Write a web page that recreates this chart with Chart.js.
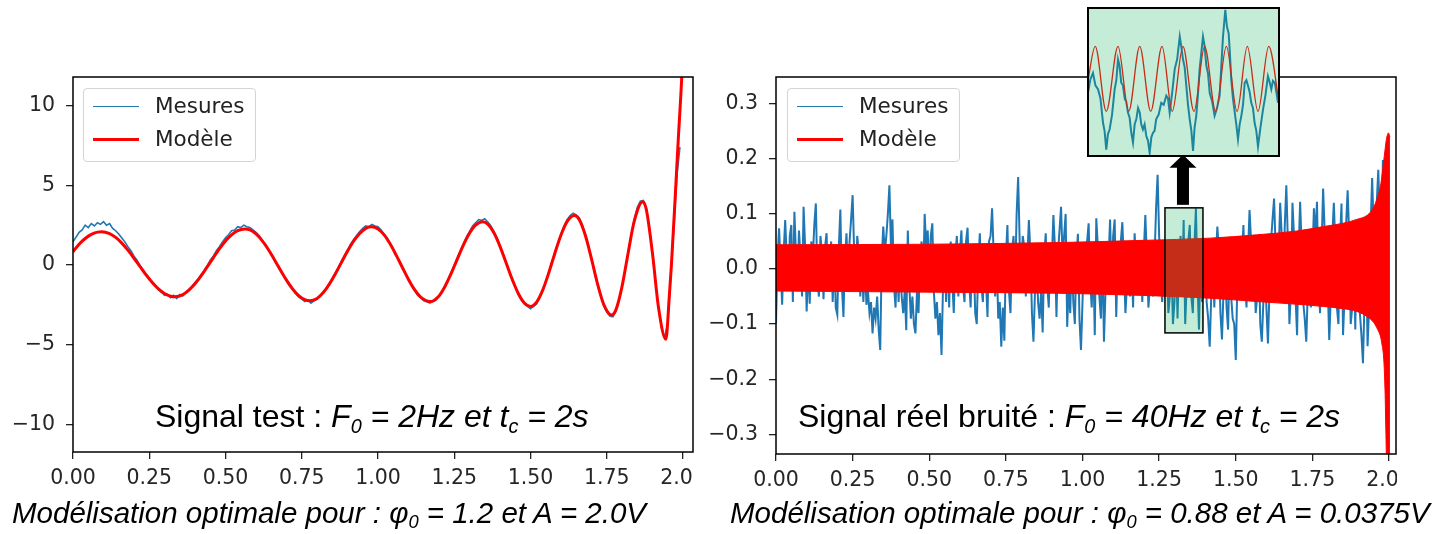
<!DOCTYPE html>
<html>
<head>
<meta charset="utf-8">
<script src="https://cdn.jsdelivr.net/npm/chart.js@4"></script>
<style>
  body { margin: 0; width: 1446px; height: 534px; background: #fff; position: relative; overflow: hidden; }
  .wrap { position: absolute; top: 0; height: 534px; overflow: hidden; }
  canvas { display: block; }
  #inset { position: absolute; left: 1087px; top: 7px; }
  .legend { position: absolute; top: 88px; width: 171px; height: 72px; border: 1px solid #d4d4d4; border-radius: 4px;
            background: rgba(255,255,255,0.85); font-family: "DejaVu Sans", sans-serif; font-size: 21.5px; color: #222; }
  .legend .line { position: absolute; left: 9px; width: 46px; }
  .legend .txt { position: absolute; left: 71px; line-height: 26px; }
  .note, .cap { position: absolute; font-family: "Liberation Sans", Arial, sans-serif; white-space: nowrap; color: #000; }
  .note { font-size: 32px; line-height: 32px; top: 400px; }
  .cap { font-size: 29.5px; line-height: 29.5px; top: 498px; font-style: italic; }
  sub { font-size: 62%; vertical-align: baseline; position: relative; top: 0.3em; line-height: 0; }
</style>
</head>
<body>
<div class="wrap" style="left:0;width:694px"><canvas id="left" width="720" height="534"></canvas></div>
<div class="wrap" style="left:700px;width:697px"><canvas id="right" width="746" height="534"></canvas></div>
<canvas id="inset" width="193" height="150"></canvas>

<div class="legend" style="left:83px">
  <div class="line" style="top:16.5px;height:1.5px;background:#1f77b4"></div>
  <div class="txt" style="top:4px">Mesures</div>
  <div class="line" style="top:48.5px;height:3px;background:#ff0000"></div>
  <div class="txt" style="top:37px">Modèle</div>
</div>
<div class="legend" style="left:787px">
  <div class="line" style="top:16.5px;height:1.5px;background:#1f77b4"></div>
  <div class="txt" style="top:4px">Mesures</div>
  <div class="line" style="top:48.5px;height:3px;background:#ff0000"></div>
  <div class="txt" style="top:37px">Modèle</div>
</div>

<div class="note" style="left:155px">Signal test : <i>F<sub>0</sub> = 2Hz et t<sub>c</sub> = 2s</i></div>
<div class="note" style="left:798px">Signal réel bruité : <i>F<sub>0</sub> = 40Hz et t<sub>c</sub> = 2s</i></div>
<div class="cap" style="left:12px">Modélisation optimale pour : φ<sub>0</sub> = 1.2 et A = 2.0V</div>
<div class="cap" style="left:730px">Modélisation optimale pour : φ<sub>0</sub> = 0.88 et A = 0.0375V</div>

<script>
// ---- data ----
const xTicks = [0, 0.25, 0.5, 0.75, 1, 1.25, 1.5, 1.75, 2];
const testYTicks = [-10, -5, 0, 5, 10];
const realYTicks = [-0.3, -0.2, -0.1, 0, 0.1, 0.2, 0.3];

// signal test (F0 = 2 Hz): model curve, extrema + intermediate points
const testModelT = [0, 0.02, 0.04, 0.06, 0.08, 0.094, 0.12, 0.14, 0.16, 0.18, 0.2, 0.22, 0.24, 0.26, 0.28, 0.3, 0.32, 0.334,
  0.36, 0.38, 0.4, 0.42, 0.44, 0.46, 0.48, 0.5, 0.52, 0.54, 0.564, 0.58, 0.6, 0.62, 0.64, 0.66, 0.68, 0.7, 0.72, 0.74, 0.76, 0.777,
  0.8, 0.82, 0.84, 0.86, 0.88, 0.9, 0.92, 0.94, 0.96, 0.979, 1.0, 1.02, 1.04, 1.06, 1.08, 1.1, 1.12, 1.14, 1.17,
  1.2, 1.22, 1.24, 1.26, 1.28, 1.3, 1.32, 1.343, 1.36, 1.38, 1.4, 1.42, 1.44, 1.46, 1.48, 1.5,
  1.52, 1.54, 1.56, 1.58, 1.6, 1.62, 1.644, 1.66, 1.68, 1.7, 1.72, 1.74, 1.766, 1.78, 1.8, 1.82, 1.84, 1.868,
  1.88, 1.9, 1.92, 1.944, 1.955, 1.962, 1.974, 1.985, 1.996, 2.003];
const testModelV = [0.83, 1.30, 1.66, 1.92, 2.06, 2.09, 1.97, 1.73, 1.37, 0.93, 0.42, -0.11, -0.63, -1.10, -1.50, -1.79, -1.96, -1.99,
  -1.86, -1.58, -1.18, -0.69, -0.12, 0.45, 1.01, 1.50, 1.89, 2.15, 2.26, 2.20, 1.95, 1.53, 0.99, 0.35, -0.31, -0.95, -1.50, -1.92, -2.18, -2.25,
  -2.10, -1.75, -1.22, -0.57, 0.15, 0.86, 1.49, 1.98, 2.30, 2.40, 2.26, 1.89, 1.31, 0.60, -0.16, -0.91, -1.55, -2.02, -2.30,
  -1.94, -1.33, -0.53, 0.37, 1.25, 1.99, 2.50, 2.72, 2.57, 2.02, 1.17, 0.14, -0.90, -1.79, -2.39, -2.60,
  -2.33, -1.58, -0.49, 0.74, 1.88, 2.72, 3.10, 2.84, 1.85, 0.38, -1.20, -2.47, -3.14, -2.82, -1.36, 0.74, 2.73, 3.97,
  3.45, 0.71, -2.71, -4.67, -2.0, 0, 4.1, 8.05, 11.8, 15];

// signal test: measurements, one value every 0.01 s
const testMeasStep = 0.01;
const testMeasV = [
  1.45, 1.75, 2.05, 2.2, 2.5, 2.35, 2.6, 2.45, 2.65, 2.55,
  2.72, 2.5, 2.6, 2.3, 2.15, 1.95, 1.7, 1.45, 1.15, 0.9,
  0.55, 0.3, -0.05, -0.3, -0.6, -0.85, -1.15, -1.3, -1.55, -1.7,
  -1.9, -1.85, -2.05, -1.9, -2.1, -1.85, -1.95, -1.7, -1.55, -1.35,
  -1.1, -0.9, -0.6, -0.35, -0.05, 0.3, 0.55, 0.9, 1.15, 1.45,
  1.7, 1.9, 2.15, 2.2, 2.4, 2.35, 2.5, 2.4, 2.35, 2.2,
  2.05, 1.85, 1.55, 1.3, 0.95, 0.7, 0.3, 0.0, -0.35, -0.65,
  -1.0, -1.3, -1.55, -1.8, -2.0, -2.15, -2.3, -2.2, -2.4, -2.25,
  -2.15, -1.95, -1.7, -1.5, -1.15, -0.85, -0.5, -0.15, 0.25, 0.6,
  0.95, 1.3, 1.6, 1.85, 2.1, 2.3, 2.45, 2.4, 2.55, 2.45,
  2.4, 2.2, 1.95, 1.7, 1.35, 1.0, 0.6, 0.25, -0.2, -0.55,
  -0.95, -1.3, -1.6, -1.9, -2.05, -2.25, -2.3, -2.4, -2.3, -2.2,
  -1.95, -1.7, -1.3, -0.9, -0.45, 0.0, 0.45, 0.9, 1.35, 1.75,
  2.1, 2.45, 2.65, 2.85, 2.8, 2.9, 2.7, 2.45, 2.1, 1.7,
  1.2, 0.7, 0.15, -0.4, -0.95, -1.4, -1.85, -2.2, -2.45, -2.6,
  -2.75, -2.6, -2.45, -2.05, -1.6, -1.05, -0.45, 0.2, 0.8, 1.4,
  1.95, 2.45, 2.85, 3.1, 3.25, 3.15, 2.95, 2.5, 1.9, 1.2,
  0.4, -0.45, -1.25, -1.95, -2.55, -2.95, -3.2, -3.25, -2.9, -2.25,
  -1.4, -0.35, 0.8, 1.85, 2.85, 3.6, 4.0, 4.05, 3.55, 2.3,
  0.75, -1.05, -2.75, -4.0, -4.55, -3.6, -0.7, 2.3, 5.6, 7.4];

// real noisy signal (F0 = 40 Hz): measurements, one value every 0.005 s
const realMeasStep = 0.005;
const realMeasV = [
  -0.099, 0.02, 0.074, 0.01, -0.065, 0.03, 0.089, 0.02, -0.04, 0.06, 0.08, -0.06, 0.104, 0.03, -0.03, 0.07, 0.02, -0.05, 0.113, 0.04,
  -0.077, 0.01, -0.063, 0.05, 0.02, 0.08, 0.119, -0.02, -0.05, 0.06, 0.03, -0.055, 0.04, 0.065, -0.04, 0.02, 0.05, -0.06, 0.03, -0.07,
  -0.083, 0.04, 0.108, -0.03, -0.087, 0.02, 0.065, -0.02, 0.05, 0.09, 0.134, 0.03, -0.04, 0.06, 0.03, -0.05, 0.02, -0.06, 0.01, -0.065,
  -0.04, -0.08, -0.06, -0.117, -0.07, -0.09, -0.05, -0.11, -0.147, 0.02, 0.077, 0.03, 0.06, 0.1, 0.152, 0.04, 0.09, -0.03, -0.07, 0.02,
  -0.06, 0.03, -0.05, -0.08, -0.04, -0.111, 0.07, -0.03, -0.09, -0.05, -0.1, -0.117, -0.04, -0.08, 0.02, 0.05, -0.03, 0.1, 0.04, 0.07,
  -0.02, 0.06, 0.083, -0.04, -0.09, -0.06, -0.12, -0.08, -0.156, -0.03, 0.04, -0.06, 0.03, -0.07, 0.05, -0.02, -0.08, 0.02, 0.06, -0.05,
  0.03, 0.07, -0.03, -0.06, 0.05, 0.075, -0.02, -0.07, 0.04, 0.02, -0.08, -0.1, 0.01, 0.065, -0.03, -0.06, 0.04, -0.02, -0.087, 0.05,
  0.06, 0.11, 0.03, -0.05, 0.02, -0.09, -0.06, -0.141, -0.07, -0.13, 0.02, 0.08, -0.04, -0.08, 0.03, 0.06, -0.03, 0.1, 0.167, 0.05,
  -0.02, 0.06, 0.04, -0.05, 0.02, 0.089, 0.03, -0.08, -0.132, -0.04, 0.03, -0.06, -0.09, -0.04, -0.115, 0.02, 0.065, -0.03, -0.07, 0.04,
  0.02, 0.098, 0.04, -0.087, 0.03, 0.07, 0.113, 0.02, 0.06, 0.1, -0.105, -0.03, -0.08, 0.03, -0.06, -0.1, 0.02, 0.064, -0.09, -0.147,
  -0.06, 0.03, -0.04, 0.05, 0.083, -0.02, -0.07, 0.02, -0.12, 0.092, 0.04, -0.05, -0.09, 0.03, -0.132, -0.04, 0.05, 0.02, 0.09, -0.03,
  0.06, 0.09, -0.087, 0.02, -0.04, 0.05, 0.085, 0.01, -0.08, -0.03, 0.04, -0.05, 0.02, -0.07, 0.065, 0.01, -0.04, 0.03, 0.05, -0.06,
  0.03, 0.098, 0.02, -0.07, -0.03, 0.04, -0.05, 0.02, 0.11, 0.171, 0.06, -0.02, -0.06, 0.02, -0.04, 0.03, -0.08, -0.05, 0.02, -0.1,
  -0.06, 0.03, -0.09, 0.02, 0.06, -0.04, 0.089, -0.1, -0.03, 0.05, 0.08, -0.05, -0.08, 0.04, 0.11, -0.02, -0.11, 0.03, -0.06, 0.02,
  0.04, -0.06, -0.09, -0.141, -0.05, 0.03, -0.07, 0.02, 0.077, 0.03, -0.08, -0.128, -0.04, 0.02, -0.07, -0.11, 0.03, -0.05, -0.09, -0.1,
  -0.165, -0.03, 0.04, -0.05, 0.02, 0.08, -0.02, -0.07, 0.03, 0.107, 0.05, -0.04, 0.02, -0.08, -0.05, 0.03, -0.1, -0.132, -0.06, 0.02,
  -0.07, -0.135, -0.04, 0.05, 0.09, 0.128, 0.04, -0.06, 0.03, 0.12, 0.06, -0.03, 0.08, 0.152, 0.05, -0.1, -0.04, 0.12, 0.06, -0.05,
  -0.12, 0.03, 0.122, 0.04, -0.06, -0.09, -0.132, -0.04, 0.05, -0.07, 0.02, 0.11, 0.06, 0.122, -0.03, -0.08, 0.04, 0.146, 0.07, -0.06,
  -0.03, -0.129, -0.05, 0.06, 0.12, 0.04, -0.07, -0.1, 0.05, 0.119, -0.12, -0.05, 0.08, 0.143, 0.06, -0.1, -0.07, 0.04, -0.11, 0.09,
  0.03, -0.08, -0.12, -0.171, -0.06, 0.05, -0.14, -0.07, 0.08, 0.165, 0.07, -0.09, 0.12, 0.18, 0.09, -0.05, 0.198, 0.1, -0.08, 0.05];

// real signal: model oscillates too fast to resolve, so its upper / lower envelope
const realEnvT = [0, 0.5, 0.92, 1.2, 1.416, 1.568, 1.7, 1.786, 1.85, 1.895, 1.93, 1.95, 1.963, 1.972, 1.978, 1.983, 1.987, 1.99, 1.994, 1.998, 2.003];
const realEnvUp = [0.044, 0.045, 0.048, 0.052, 0.056, 0.062, 0.069, 0.077, 0.083, 0.09, 0.098, 0.112, 0.131, 0.15, 0.174, 0.198, 0.216, 0.23, 0.242, 0.247, 0.24];
const realEnvLow = [-0.040, -0.042, -0.044, -0.048, -0.053, -0.059, -0.064, -0.068, -0.072, -0.077, -0.087, -0.097, -0.11, -0.122, -0.14, -0.165, -0.22, -0.3, -0.4, -0.4, -0.4];

// zoomed region (time range, value range)
const zoomT = [1.269, 1.393];
const zoomV = [-0.116, 0.111];

// inset: zoom of that region
const insetModelT = [1.2687, 1.2741, 1.2813, 1.289, 1.296, 1.3032, 1.3104, 1.3178, 1.3245, 1.3315, 1.3387, 1.3457, 1.3529, 1.3599, 1.3669, 1.3736, 1.3806, 1.3876, 1.395];
const insetModelV = [-0.012, 0.05, -0.05, 0.05, -0.05, 0.05, -0.05, 0.05, -0.05, 0.05, -0.05, 0.05, -0.05, 0.05, -0.05, 0.05, -0.05, 0.05, -0.047];
const insetMeasT = [1.2693, 1.2709, 1.2726, 1.2742, 1.2759, 1.2775, 1.2792, 1.2802, 1.2813, 1.2824, 1.2835, 1.2851, 1.2868, 1.2879,
  1.289, 1.29, 1.2911, 1.2922, 1.2934, 1.2944, 1.2955, 1.2966, 1.2977, 1.2988, 1.2999, 1.301, 1.3021, 1.3032, 1.3042, 1.3053, 1.3064,
  1.3075, 1.3086, 1.3097, 1.3108, 1.3119, 1.3129, 1.314, 1.3156, 1.3173, 1.3189, 1.3206, 1.3217, 1.3228, 1.3244, 1.3261, 1.3277,
  1.3294, 1.3304, 1.3315, 1.3326, 1.3337, 1.3348, 1.3359, 1.337, 1.3381, 1.3391, 1.3402, 1.3413, 1.3424, 1.3435, 1.3446, 1.3457,
  1.3468, 1.3479, 1.349, 1.3506, 1.3522, 1.3538, 1.3555, 1.3566, 1.3577, 1.3592, 1.3603, 1.3614, 1.3622, 1.3631, 1.3642, 1.3654,
  1.3664, 1.3675, 1.3686, 1.3697, 1.3708, 1.3719, 1.373, 1.3741, 1.3751, 1.3762, 1.3773, 1.3784, 1.3795, 1.3806, 1.3822, 1.3839,
  1.3855, 1.3871, 1.3882, 1.3893, 1.3904, 1.3916, 1.3926, 1.3937];
const insetMeasV = [-0.022, -0.001, 0.009, -0.010, -0.016, -0.030, -0.068, -0.080, -0.109, -0.085, -0.078, -0.055, -0.016, -0.002,
  0.03, 0.02, -0.006, -0.010, -0.031, -0.035, -0.052, -0.060, -0.083, -0.098, -0.070, -0.062, -0.045, -0.052, -0.070, -0.078, -0.070,
  -0.088, -0.095, -0.114, -0.090, -0.083, -0.080, -0.062, -0.055, -0.037, -0.040, -0.026, -0.030, -0.052, -0.022, 0.015, 0.030,
  0.065, 0.050, 0.03, 0.018, -0.011, -0.040, -0.062, -0.080, -0.111, -0.075, -0.057, -0.025, 0.015, 0.040, 0.065, 0.050,
  0.02, 0.008, -0.022, -0.035, -0.057, -0.045, -0.026, 0.020, 0.065, 0.106, 0.080, 0.07, 0.040, -0.001, -0.030, -0.052,
  -0.070, -0.093, -0.070, -0.057, -0.040, -0.006, -0.002, -0.011, -0.020, -0.037, -0.045, -0.068, -0.080, -0.104, -0.075, -0.047,
  -0.025, 0.004, -0.005, -0.016, -0.003, -0.006, -0.020, -0.037];

// ---- helpers ----
const pts = (xs, ys) => xs.map((x, i) => ({ x: x, y: ys[i] }));
const stepPts = (step, ys) => ys.map((y, i) => ({ x: +(i * step).toFixed(4), y: y }));
const minus = s => s.replace('-', '\u2212');
const tickFont = { family: 'DejaVu Sans', size: 20.5 };
const BLUE = '#1f77b4', RED = '#ff0000';

const frame = {
  id: 'frame',
  afterDatasetsDraw(chart) {
    const { ctx, chartArea: a } = chart;
    ctx.save();
    ctx.strokeStyle = '#000';
    ctx.lineWidth = 1.5;
    ctx.strokeRect(a.left, a.top, a.right - a.left, a.bottom - a.top);
    ctx.restore();
  }
};

function scales(xMax, yMin, yMax, yTicks, yFmt, yWidth, xHeight) {
  const grid = { display: true, drawOnChartArea: false, drawTicks: true, tickLength: 7, color: '#222', lineWidth: 1.3 };
  return {
    x: {
      type: 'linear', min: 0, max: xMax,
      afterBuildTicks: s => { s.ticks = xTicks.map(v => ({ value: v })); },
      afterFit: s => { s.height = xHeight; },
      grid: grid, border: { display: false },
      ticks: { font: tickFont, color: '#262626', padding: 7, maxRotation: 0, autoSkip: false, callback: v => v.toFixed(2) }
    },
    y: {
      type: 'linear', min: yMin, max: yMax,
      afterBuildTicks: s => { s.ticks = yTicks.map(v => ({ value: v })); },
      afterFit: s => { s.width = yWidth; },
      grid: grid, border: { display: false },
      ticks: { font: tickFont, color: '#262626', padding: 11, autoSkip: false, callback: v => minus(yFmt(v)) }
    }
  };
}

const common = {
  responsive: false, animation: false, devicePixelRatio: 1, events: [],
  plugins: { legend: { display: false }, tooltip: { enabled: false } },
  elements: { point: { radius: 0 } }
};

// ---- left: signal test ----
new Chart(document.getElementById('left'), {
  type: 'line',
  data: {
    datasets: [
      { label: 'Mesures', data: stepPts(testMeasStep, testMeasV), borderColor: BLUE, borderWidth: 1.6, tension: 0, order: 1 },
      { label: 'Modèle', data: pts(testModelT, testModelV), borderColor: RED, borderWidth: 3, cubicInterpolationMode: 'monotone', order: 0 }
    ]
  },
  options: Object.assign({}, common, {
    layout: { padding: { left: 0, top: 77, right: 27, bottom: 0 } },
    scales: scales(2.0328, -11.74, 11.8, testYTicks, v => String(v), 73, 82)
  }),
  plugins: [frame]
});

// ---- right: real noisy signal ----
const zoomMark = {
  id: 'zoomMark',
  afterDatasetsDraw(chart) {
    const { ctx, scales: { x, y } } = chart;
    const l = x.getPixelForValue(zoomT[0]), r = x.getPixelForValue(zoomT[1]);
    const t = y.getPixelForValue(zoomV[1]), b = y.getPixelForValue(zoomV[0]);
    ctx.save();
    ctx.fillStyle = 'rgba(24,180,96,0.25)';
    ctx.fillRect(l, t, r - l, b - t);
    ctx.strokeStyle = '#000';
    ctx.lineWidth = 1.5;
    ctx.strokeRect(l, t, r - l, b - t);
    // arrow up to the inset
    const cx = (l + r) / 2 - 1;
    ctx.fillStyle = '#000';
    ctx.fillRect(cx - 6, t - 41, 12, 38);
    ctx.beginPath();
    ctx.moveTo(cx - 13.5, t - 40);
    ctx.lineTo(cx + 13.5, t - 40);
    ctx.lineTo(cx, t - 53);
    ctx.closePath();
    ctx.fill();
    ctx.restore();
  }
};

new Chart(document.getElementById('right'), {
  type: 'line',
  data: {
    datasets: [
      { label: 'Mesures', data: stepPts(realMeasStep, realMeasV), borderColor: BLUE, borderWidth: 2, tension: 0, order: 2 },
      { label: 'Modèle', data: pts(realEnvT, realEnvUp), borderColor: RED, backgroundColor: RED, borderWidth: 1,
        fill: '+1', cubicInterpolationMode: 'monotone', order: 0 },
      { label: 'Modèle (bas)', data: pts(realEnvT, realEnvLow), borderColor: RED, borderWidth: 1,
        fill: false, cubicInterpolationMode: 'monotone', order: 1 }
    ]
  },
  options: Object.assign({}, common, {
    layout: { padding: { left: 0, top: 77, right: 50, bottom: 0 } },
    scales: scales(2.0228, -0.3358, 0.3485, realYTicks, v => v.toFixed(1), 76, 80)
  }),
  plugins: [zoomMark, frame]
});

// ---- inset ----
const insetDeco = {
  id: 'insetDeco',
  beforeDraw(chart) {
    const { ctx, width, height } = chart;
    ctx.save();
    ctx.fillStyle = '#fff';
    ctx.fillRect(0, 0, width, height);
    ctx.restore();
  },
  afterDatasetsDraw(chart) {
    const { ctx, width, height } = chart;
    ctx.save();
    ctx.fillStyle = 'rgba(24,180,96,0.25)';
    ctx.fillRect(0, 0, width, height);
    ctx.strokeStyle = '#000';
    ctx.lineWidth = 2;
    ctx.strokeRect(1, 1, width - 2, height - 2);
    ctx.restore();
  }
};

new Chart(document.getElementById('inset'), {
  type: 'line',
  data: {
    datasets: [
      { label: 'Mesures', data: pts(insetMeasT, insetMeasV), borderColor: BLUE, borderWidth: 2, tension: 0, order: 1 },
      { label: 'Modèle', data: pts(insetModelT, insetModelV), borderColor: RED, borderWidth: 1.3, cubicInterpolationMode: 'monotone', order: 0 }
    ]
  },
  options: Object.assign({}, common, {
    layout: { padding: 0 },
    scales: {
      x: { type: 'linear', display: false, min: 1.2687, max: 1.395 },
      y: { type: 'linear', display: false, min: -0.1203, max: 0.1105 }
    }
  }),
  plugins: [insetDeco]
});
</script>
</body>
</html>
